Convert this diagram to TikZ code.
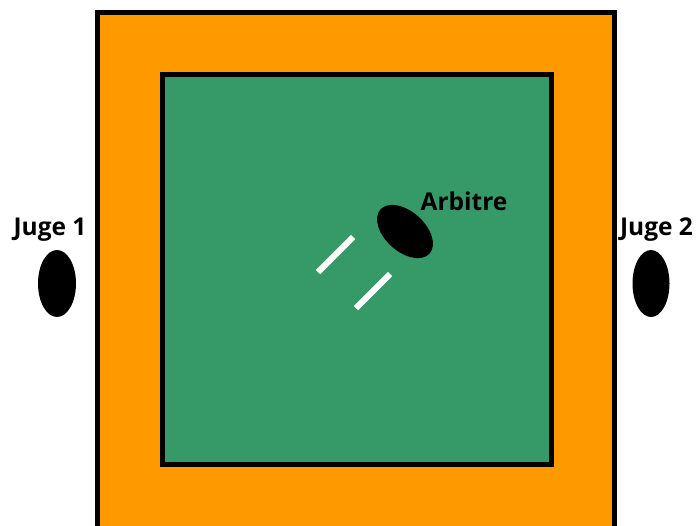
\documentclass[tikz,border=0pt]{standalone}
\usepackage{fontspec}
\setmainfont{Open Sans}
\usetikzlibrary{positioning}
\definecolor{tapisorange}{HTML}{FF9900}
\definecolor{tapisvert}{HTML}{369A68}

\begin{document}
\begin{tikzpicture}[x=1pt, y=-1pt, line width=5pt,
    label/.style={font=\fontsize{24.5}{29}\selectfont\bfseries, anchor=base, inner sep=0pt},
    person/.style={fill=black}]
        \useasboundingbox (0,0) rectangle (700,525);
        \clip (0,0) rectangle (700,525);
        % tapis et zone de combat
        \draw[fill=tapisorange] (97,12) rectangle (614,560);
        \draw[fill=tapisvert] (162.5,74.5) rectangle (551,464.5);
        % juges
        \fill[person] (57,283.5) ellipse [x radius=19, y radius=33.5];
        \fill[person] (651,283.5) ellipse [x radius=18.5, y radius=33.5];
        \node[label] (juge1) at (50,235) {Juge 1};
        \node[label] (juge2) at (656.5,235) {Juge 2};
        % arbitre et combattants
        \fill[person, rotate around={-42:(405,231.5)}] (405,231.5) ellipse [x radius=33, y radius=20];
        \node[label] (arbitre) at (464,210.5) {Arbitre};
        \foreach \xa/\ya/\xb/\yb in {318/272/353/237, 356/308/390/274}
          \draw[white, line width=6pt] (\xa,\ya) -- (\xb,\yb);
      \end{tikzpicture}
\end{document}
